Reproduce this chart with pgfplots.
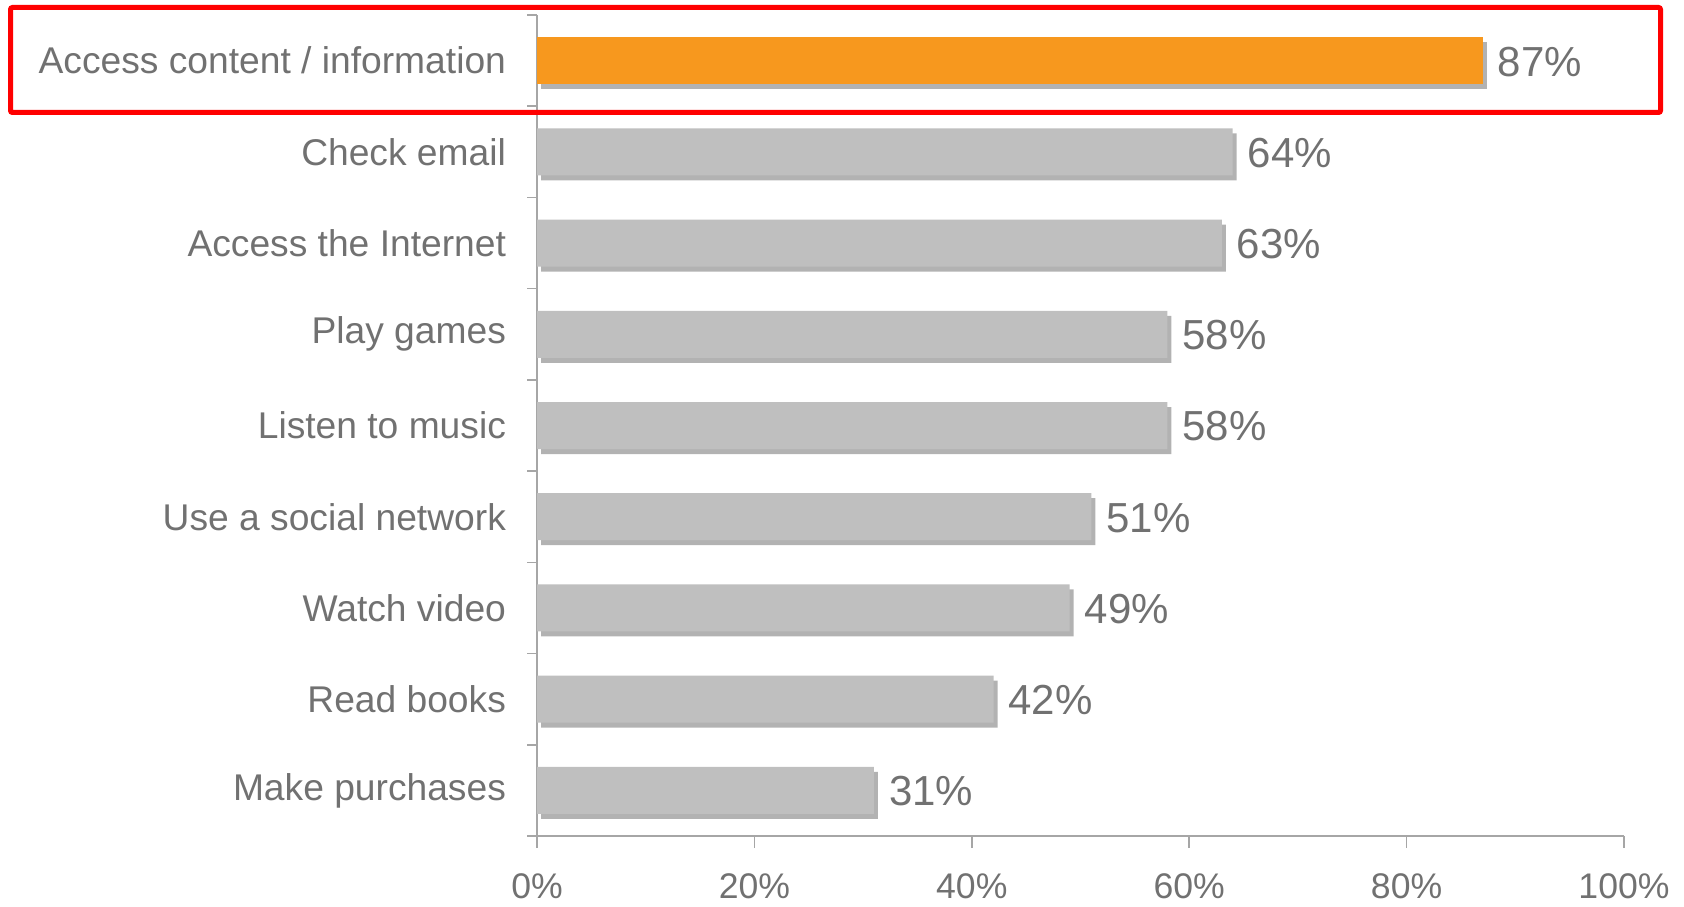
\documentclass[border=0pt]{standalone}
\usepackage{fontspec}
\setmainfont{Liberation Sans}
\usepackage{pgfplots}
\pgfplotsset{compat=1.18}
\usetikzlibrary{shadows}
\definecolor{barorange}{HTML}{F7981E}
\definecolor{bargray}{HTML}{BFBFBF}
\definecolor{txtgray}{HTML}{717171}
\definecolor{axgray}{HTML}{A6A6A6}
\begin{document}
\begin{tikzpicture}[x=1pt,y=1pt]
\useasboundingbox (0,0) rectangle (842,453);
\begin{axis}[
  at={(268.5pt,35pt)}, anchor=south west,
  scale only axis, width=543.5pt, height=410.5pt,
  xbar, bar width=23.5pt,
  xmin=0, xmax=100, ymin=-0.5, ymax=8.5,
  y dir=reverse,
  axis x line*=bottom, axis y line*=left,
  axis line style={axgray, line width=0.8pt},
  tick align=outside,
  /pgf/number format/assume math mode=true,
  xtick={0,20,40,60,80,100},
  xticklabels={0\%,20\%,40\%,60\%,80\%,100\%},
  xtick style={axgray, line width=0.8pt},
  major tick length=6pt,
  xticklabel style={font=\fontsize{17.8}{18}\selectfont, text=txtgray, inner sep=0pt, yshift=-12.5pt},
  ytick={0,1,2,3,4,5,6,7,8},
  yticklabels={Access content / information, Check email\hspace{0.278em}, Access the Internet, Play games, Listen to music, Use a social network, Watch video, Read books, Make purchases},
  ytick style={draw=none},
  yticklabel style={font=\fontsize{18.6}{20}\selectfont, text=txtgray, xshift=-6pt},
  extra y ticks={-0.5,0.5,1.5,2.5,3.5,4.5,5.5,6.5,7.5,8.5},
  extra y tick labels={},
  extra y tick style={ytick style={draw=axgray, line width=0.8pt}, major tick length=5pt},
  nodes near coords={\pgfmathprintnumber{\pgfplotspointmeta}\%},
  nodes near coords style={font=\fontsize{21}{21}\selectfont, text=txtgray, anchor=west, xshift=4pt, yshift=-0.5pt},
  point meta=explicit symbolic,
  clip=false,
]
\addplot[draw=none, fill=barorange, bar shift=0pt,
  drop shadow={shadow xshift=2pt, shadow yshift=-2.5pt, fill=black, opacity=0.3}]
  coordinates {(87,0) [87]};
\addplot[draw=none, fill=bargray, bar shift=0pt,
  drop shadow={shadow xshift=2pt, shadow yshift=-2.5pt, fill=black, opacity=0.3}]
  coordinates {(64,1) [64] (63,2) [63] (58,3) [58] (58,4) [58] (51,5) [51] (49,6) [49] (42,7) [42] (31,8) [31]};
\end{axis}
\draw[red, line width=2.5pt, rounded corners=1pt] (5.25,396.75) rectangle (830.25,449.25);
\end{tikzpicture}
\end{document}
